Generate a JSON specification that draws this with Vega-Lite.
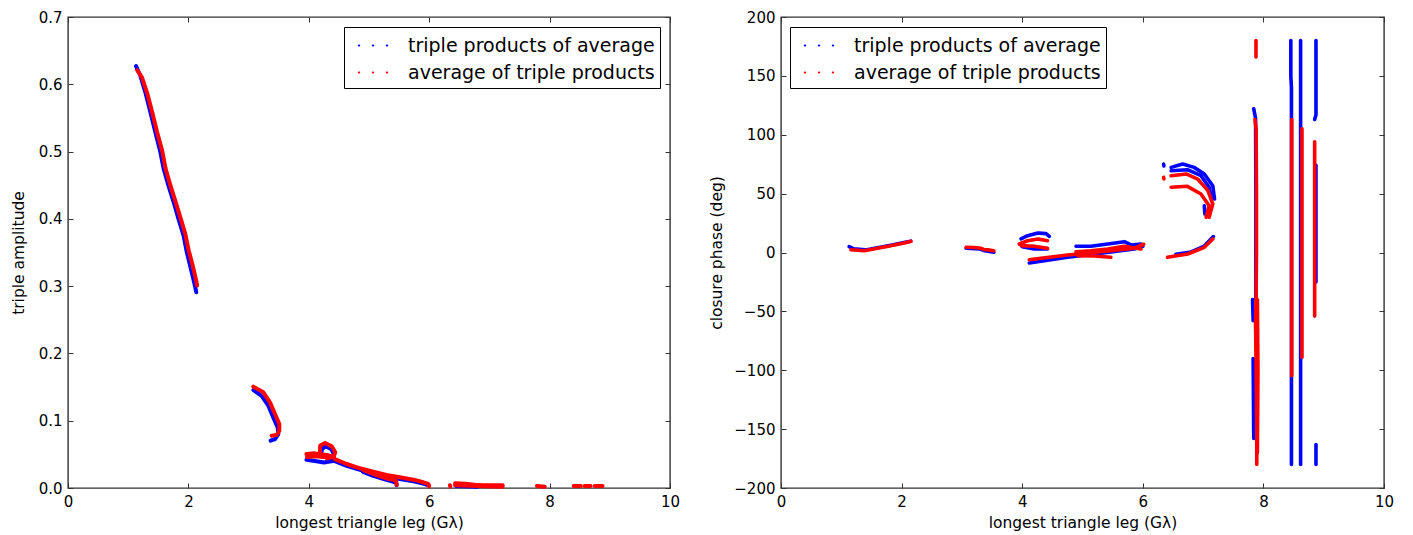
{
"$schema": "https://vega.github.io/schema/vega-lite/v6.json",
"padding": {"left": 10, "top": 9, "right": 5, "bottom": 5},
"spacing": 28,
"config": {
  "font": "DejaVu Sans",
  "view": {"stroke": "#333", "strokeWidth": 1.4},
  "axis": {"grid": false, "domain": false, "tickColor": "#333", "tickSize": -5, "tickWidth": 1, "labelPadding": 11,
    "labelFont": "DejaVu Sans", "labelFontSize": 15, "labelColor": "#000",
    "titleFont": "DejaVu Sans", "titleFontSize": 15.5, "titleFontWeight": "normal", "titleColor": "#000",
    "labelFlush": false, "labelOverlap": false},
  "axisX": {"titlePadding": 6},
  "axisY": {"titlePadding": 12}
},
"datasets": {
  "amp_b": [
    {"g":1,"x":1.13,"y":0.627},{"g":1,"x":1.20,"y":0.613},{"g":1,"x":1.285,"y":0.588},{"g":1,"x":1.37,"y":0.558},{"g":1,"x":1.45,"y":0.529},{"g":1,"x":1.53,"y":0.501},{"g":1,"x":1.59,"y":0.474},{"g":1,"x":1.67,"y":0.449},{"g":1,"x":1.755,"y":0.425},{"g":1,"x":1.835,"y":0.400},{"g":1,"x":1.92,"y":0.375},{"g":1,"x":1.975,"y":0.350},{"g":1,"x":2.035,"y":0.328},{"g":1,"x":2.11,"y":0.300},{"g":1,"x":2.13,"y":0.291},
    {"g":2,"x":3.08,"y":0.1456},{"g":2,"x":3.217,"y":0.137},{"g":2,"x":3.328,"y":0.1223},{"g":2,"x":3.41,"y":0.105},{"g":2,"x":3.483,"y":0.090},{"g":2,"x":3.494,"y":0.080},{"g":2,"x":3.439,"y":0.0728},{"g":2,"x":3.366,"y":0.0703},
    {"g":3,"x":3.96,"y":0.042},{"g":3,"x":4.10,"y":0.040},{"g":3,"x":4.25,"y":0.038},{"g":3,"x":4.40,"y":0.040},
    {"g":4,"x":4.20,"y":0.048},{"g":4,"x":4.22,"y":0.058},{"g":4,"x":4.28,"y":0.062},{"g":4,"x":4.37,"y":0.058},{"g":4,"x":4.42,"y":0.050},{"g":4,"x":4.38,"y":0.045},{"g":4,"x":4.25,"y":0.047},
    {"g":5,"x":4.40,"y":0.041},{"g":5,"x":4.63,"y":0.033},{"g":5,"x":4.85,"y":0.027},{"g":5,"x":5.07,"y":0.022},{"g":5,"x":5.29,"y":0.017},{"g":5,"x":5.51,"y":0.0135},{"g":5,"x":5.74,"y":0.010},{"g":5,"x":5.90,"y":0.0065},{"g":5,"x":5.99,"y":0.004},
    {"g":6,"x":4.90,"y":0.024},{"g":6,"x":5.07,"y":0.018},{"g":6,"x":5.29,"y":0.012},{"g":6,"x":5.45,"y":0.008},{"g":6,"x":5.46,"y":0.004},
    {"g":7,"x":6.45,"y":0.003},{"g":7,"x":6.80,"y":0.002}
  ],
  "amp_r": [
    {"g":1,"x":1.15,"y":0.621},{"g":1,"x":1.23,"y":0.610},{"g":1,"x":1.315,"y":0.587},{"g":1,"x":1.40,"y":0.558},{"g":1,"x":1.48,"y":0.529},{"g":1,"x":1.565,"y":0.501},{"g":1,"x":1.62,"y":0.475},{"g":1,"x":1.70,"y":0.450},{"g":1,"x":1.785,"y":0.426},{"g":1,"x":1.87,"y":0.401},{"g":1,"x":1.95,"y":0.377},{"g":1,"x":2.005,"y":0.353},{"g":1,"x":2.065,"y":0.333},{"g":1,"x":2.125,"y":0.310},{"g":1,"x":2.145,"y":0.301},
    {"g":2,"x":3.078,"y":0.1506},{"g":2,"x":3.244,"y":0.1422},{"g":2,"x":3.355,"y":0.1273},{"g":2,"x":3.439,"y":0.110},{"g":2,"x":3.51,"y":0.0951},{"g":2,"x":3.51,"y":0.0852},{"g":2,"x":3.466,"y":0.0788},{"g":2,"x":3.383,"y":0.0778},
    {"g":3,"x":3.96,"y":0.0505},{"g":3,"x":4.10,"y":0.0515},{"g":3,"x":4.20,"y":0.050},{"g":3,"x":4.30,"y":0.049},{"g":3,"x":4.42,"y":0.046},
    {"g":4,"x":3.97,"y":0.046},{"g":4,"x":4.10,"y":0.047},{"g":4,"x":4.25,"y":0.046},
    {"g":5,"x":4.18,"y":0.050},{"g":5,"x":4.19,"y":0.063},{"g":5,"x":4.27,"y":0.067},{"g":5,"x":4.38,"y":0.062},{"g":5,"x":4.44,"y":0.053},{"g":5,"x":4.41,"y":0.046},{"g":5,"x":4.30,"y":0.044},
    {"g":6,"x":4.43,"y":0.043},{"g":6,"x":4.63,"y":0.0357},{"g":6,"x":4.85,"y":0.0293},{"g":6,"x":5.07,"y":0.0243},{"g":6,"x":5.29,"y":0.0193},{"g":6,"x":5.51,"y":0.0159},{"g":6,"x":5.74,"y":0.0124},{"g":6,"x":5.90,"y":0.0085},{"g":6,"x":5.985,"y":0.006},{"g":6,"x":6.0,"y":0.0025},
    {"g":7,"x":4.90,"y":0.027},{"g":7,"x":5.07,"y":0.0208},{"g":7,"x":5.29,"y":0.0144},{"g":7,"x":5.45,"y":0.0109},{"g":7,"x":5.46,"y":0.0045},
    {"g":8,"x":6.43,"y":0.007},{"g":8,"x":6.6,"y":0.0065},{"g":8,"x":6.75,"y":0.005},{"g":8,"x":6.9,"y":0.004},{"g":8,"x":7.05,"y":0.004},{"g":8,"x":7.22,"y":0.004},
    {"g":9,"x":6.43,"y":0.004},{"g":9,"x":6.8,"y":0.003},{"g":9,"x":7.22,"y":0.002},
    {"g":10,"x":6.345,"y":0.004},{"g":10,"x":6.35,"y":0.002},
    {"g":11,"x":7.79,"y":0.003},{"g":11,"x":7.92,"y":0.002},
    {"g":12,"x":8.40,"y":0.003},{"g":12,"x":8.52,"y":0.003},
    {"g":13,"x":8.58,"y":0.003},{"g":13,"x":8.68,"y":0.003},
    {"g":14,"x":8.75,"y":0.003},{"g":14,"x":8.88,"y":0.003}
  ],
  "phase_b": [
    {"g":1,"x":1.13,"y":5.0},{"g":1,"x":1.20,"y":3.2},{"g":1,"x":1.40,"y":2.2},{"g":1,"x":1.60,"y":4.0},{"g":1,"x":1.82,"y":6.2},{"g":1,"x":2.04,"y":8.5},{"g":1,"x":2.15,"y":9.6},
    {"g":2,"x":3.07,"y":3.6},{"g":2,"x":3.30,"y":3.0},{"g":2,"x":3.38,"y":1.5},{"g":2,"x":3.53,"y":0.3},
    {"g":3,"x":3.98,"y":11.5},{"g":3,"x":4.09,"y":14.3},{"g":3,"x":4.26,"y":16.6},{"g":3,"x":4.395,"y":16.0},{"g":3,"x":4.45,"y":13.7},
    {"g":4,"x":4.0,"y":5.0},{"g":4,"x":4.2,"y":3.0},{"g":4,"x":4.42,"y":3.0},
    {"g":5,"x":4.118,"y":-8.9},{"g":5,"x":4.754,"y":-4.1},{"g":5,"x":5.307,"y":-0.7},{"g":5,"x":5.86,"y":3.0},{"g":5,"x":6.0,"y":5.3},
    {"g":6,"x":4.892,"y":5.3},{"g":6,"x":5.14,"y":5.3},{"g":6,"x":5.418,"y":7.2},{"g":6,"x":5.694,"y":9.2},{"g":6,"x":5.804,"y":6.4},{"g":6,"x":5.97,"y":7.2},
    {"g":7,"x":6.345,"y":75.2},{"g":7,"x":6.35,"y":73.5},
    {"g":8,"x":6.47,"y":72.3},{"g":8,"x":6.66,"y":75.2},{"g":8,"x":6.85,"y":72.3},{"g":8,"x":7.02,"y":66.7},{"g":8,"x":7.16,"y":56.7},{"g":8,"x":7.19,"y":45.4},
    {"g":9,"x":6.47,"y":69.4},{"g":9,"x":6.74,"y":70.3},{"g":9,"x":6.965,"y":65.2},{"g":9,"x":7.10,"y":55.4},{"g":9,"x":7.14,"y":46},
    {"g":10,"x":7.02,"y":39.7},{"g":10,"x":7.03,"y":32.7},
    {"g":11,"x":6.55,"y":-1.5},{"g":11,"x":6.80,"y":0.5},{"g":11,"x":7.02,"y":5.5},{"g":11,"x":7.17,"y":13.5},
    {"g":12,"x":7.84,"y":122},{"g":12,"x":7.87,"y":114},{"g":12,"x":7.875,"y":60},{"g":12,"x":7.875,"y":0},{"g":12,"x":7.875,"y":-40},
    {"g":13,"x":7.82,"y":-40},{"g":13,"x":7.83,"y":-58},
    {"g":14,"x":7.83,"y":-90},{"g":14,"x":7.84,"y":-158},
    {"g":15,"x":8.455,"y":180},{"g":15,"x":8.455,"y":150},{"g":15,"x":8.465,"y":140},{"g":15,"x":8.465,"y":-180},
    {"g":16,"x":8.617,"y":180},{"g":16,"x":8.617,"y":-180},
    {"g":17,"x":8.872,"y":180},{"g":17,"x":8.872,"y":117},{"g":17,"x":8.85,"y":113},
    {"g":18,"x":8.872,"y":74},{"g":18,"x":8.872,"y":-25},
    {"g":19,"x":8.872,"y":-163},{"g":19,"x":8.872,"y":-180}
  ],
  "phase_r": [
    {"g":1,"x":1.16,"y":2.4},{"g":1,"x":1.38,"y":1.5},{"g":1,"x":1.60,"y":3.6},{"g":1,"x":1.82,"y":5.8},{"g":1,"x":2.045,"y":8.1},{"g":1,"x":2.156,"y":9.5},
    {"g":2,"x":3.07,"y":4.4},{"g":2,"x":3.2,"y":4.2},{"g":2,"x":3.32,"y":3.6},{"g":2,"x":3.36,"y":2.6},{"g":2,"x":3.45,"y":2.2},{"g":2,"x":3.53,"y":1.5},
    {"g":3,"x":3.952,"y":7.2},{"g":3,"x":4.09,"y":10.0},{"g":3,"x":4.26,"y":11.5},{"g":3,"x":4.42,"y":10.0},
    {"g":4,"x":3.98,"y":5.8},{"g":4,"x":4.2,"y":5.3},{"g":4,"x":4.42,"y":3.6},
    {"g":5,"x":4.118,"y":-6.1},{"g":5,"x":4.754,"y":-2.1},{"g":5,"x":5.307,"y":0.7},{"g":5,"x":5.86,"y":3.6},{"g":5,"x":6.015,"y":7.0},
    {"g":6,"x":4.892,"y":0.7},{"g":6,"x":5.14,"y":1.5},{"g":6,"x":5.418,"y":3.0},{"g":6,"x":5.694,"y":5.3},{"g":6,"x":5.97,"y":3.0},
    {"g":7,"x":4.92,"y":-2.7},{"g":7,"x":5.2,"y":-3.0},{"g":7,"x":5.47,"y":-4.1},
    {"g":8,"x":6.345,"y":63.8},{"g":8,"x":6.35,"y":62.5},
    {"g":9,"x":6.47,"y":65.2},{"g":9,"x":6.72,"y":66.7},{"g":9,"x":6.91,"y":62.4},{"g":9,"x":7.08,"y":52.5},{"g":9,"x":7.16,"y":41.2},{"g":9,"x":7.10,"y":29.9},
    {"g":10,"x":6.47,"y":55.4},{"g":10,"x":6.74,"y":56.2},{"g":10,"x":6.965,"y":49.7},{"g":10,"x":7.10,"y":39.7},{"g":10,"x":7.05,"y":29.9},
    {"g":11,"x":6.41,"y":-4.1},{"g":11,"x":6.745,"y":-1.3},{"g":11,"x":7.02,"y":4.4},{"g":11,"x":7.16,"y":11.5},
    {"g":12,"x":7.877,"y":180},{"g":12,"x":7.877,"y":166},
    {"g":13,"x":7.86,"y":113},{"g":13,"x":7.88,"y":105},{"g":13,"x":7.885,"y":50},{"g":13,"x":7.885,"y":0},{"g":13,"x":7.88,"y":-35},{"g":13,"x":7.87,"y":-60},{"g":13,"x":7.88,"y":-100},{"g":13,"x":7.89,"y":-150},{"g":13,"x":7.89,"y":-180},
    {"g":14,"x":7.90,"y":-40},{"g":14,"x":7.91,"y":-100},{"g":14,"x":7.90,"y":-170},
    {"g":15,"x":8.47,"y":113},{"g":15,"x":8.47,"y":-104.6},
    {"g":16,"x":8.64,"y":105},{"g":16,"x":8.64,"y":-89},
    {"g":17,"x":8.85,"y":94},{"g":17,"x":8.85,"y":-54}
  ]
},
"hconcat": [
  {
    "width": 602, "height": 471,
    "layer": [
      {
        "data": {"name": "amp_b"},
        "mark": {"type": "line", "strokeWidth": 4, "strokeCap": "round", "strokeJoin": "round"},
        "encoding": {
          "x": {"field": "x", "type": "quantitative", "scale": {"domain": [0, 10], "nice": false, "zero": false},
                "axis": {"orient": "bottom", "values": [0, 2, 4, 6, 8, 10], "title": "longest triangle leg (Gλ)"}},
          "y": {"field": "y", "type": "quantitative", "scale": {"domain": [0, 0.7], "nice": false},
                "axis": {"orient": "left", "values": [0, 0.1, 0.2, 0.3, 0.4, 0.5, 0.6, 0.7], "format": ".1f", "title": "triple amplitude"}},
          "detail": {"field": "g", "type": "nominal"},
          "order": {"value": null},
          "color": {"datum": "triple products of average",
                    "scale": {"domain": ["triple products of average", "average of triple products"], "range": ["#0000ff", "#ff0000"]},
                    "legend": {"title": null, "orient": "none", "legendX": 276, "legendY": 10, "padding": 5,
                      "strokeColor": "#000", "fillColor": "#fff", "cornerRadius": 0,
                      "labelFont": "DejaVu Sans", "labelFontSize": 19, "labelColor": "#000", "labelLimit": 0,
                      "labelOffset": 32, "rowPadding": 3,
                      "symbolType": "M-0.3,0h0.02M0.87,0h0.02M2.03,0h0.02", "symbolSize": 576, "symbolStrokeWidth": 2.2,
                      "encode": {"symbols": {"update": {"strokeCap": {"value": "round"}}}}}}
        }
      },
      {
        "data": {"name": "amp_r"},
        "mark": {"type": "line", "strokeWidth": 4, "strokeCap": "round", "strokeJoin": "round"},
        "encoding": {
          "x": {"field": "x", "type": "quantitative", "axis": null},
          "y": {"field": "y", "type": "quantitative", "axis": null},
          "detail": {"field": "g", "type": "nominal"},
          "order": {"value": null},
          "color": {"datum": "average of triple products"}
        }
      },
      {
        "data": {"name": "amp_b"},
        "mark": {"type": "line", "opacity": 0},
        "encoding": {
          "x": {"field": "x", "type": "quantitative", "axis": {"orient": "top", "labels": false, "title": null, "values": [0, 2, 4, 6, 8, 10]}},
          "y": {"field": "y", "type": "quantitative", "axis": {"orient": "right", "labels": false, "title": null, "values": [0, 0.1, 0.2, 0.3, 0.4, 0.5, 0.6, 0.7]}},
          "detail": {"field": "g", "type": "nominal"}
        }
      }
    ],
    "resolve": {"axis": {"x": "independent", "y": "independent"}}
  },
  {
    "width": 603, "height": 471,
    "layer": [
      {
        "data": {"name": "phase_b"},
        "mark": {"type": "line", "strokeWidth": 3.6, "strokeCap": "round", "strokeJoin": "round"},
        "encoding": {
          "x": {"field": "x", "type": "quantitative", "scale": {"domain": [0, 10], "nice": false, "zero": false},
                "axis": {"orient": "bottom", "values": [0, 2, 4, 6, 8, 10], "title": "longest triangle leg (Gλ)"}},
          "y": {"field": "y", "type": "quantitative", "scale": {"domain": [-200, 200], "nice": false},
                "axis": {"orient": "left", "values": [-200, -150, -100, -50, 0, 50, 100, 150, 200], "title": "closure phase (deg)", "titlePadding": 9}},
          "detail": {"field": "g", "type": "nominal"},
          "order": {"value": null},
          "color": {"datum": "triple products of average",
                    "scale": {"domain": ["triple products of average", "average of triple products"], "range": ["#0000ff", "#ff0000"]},
                    "legend": {"title": null, "orient": "none", "legendX": 9, "legendY": 10, "padding": 5,
                      "strokeColor": "#000", "fillColor": "#fff", "cornerRadius": 0,
                      "labelFont": "DejaVu Sans", "labelFontSize": 19, "labelColor": "#000", "labelLimit": 0,
                      "labelOffset": 32, "rowPadding": 3,
                      "symbolType": "M-0.3,0h0.02M0.87,0h0.02M2.03,0h0.02", "symbolSize": 576, "symbolStrokeWidth": 2.2,
                      "encode": {"symbols": {"update": {"strokeCap": {"value": "round"}}}}}}
        }
      },
      {
        "data": {"name": "phase_r"},
        "mark": {"type": "line", "strokeWidth": 3.6, "strokeCap": "round", "strokeJoin": "round"},
        "encoding": {
          "x": {"field": "x", "type": "quantitative", "axis": null},
          "y": {"field": "y", "type": "quantitative", "axis": null},
          "detail": {"field": "g", "type": "nominal"},
          "order": {"value": null},
          "color": {"datum": "average of triple products"}
        }
      },
      {
        "data": {"name": "phase_b"},
        "mark": {"type": "line", "opacity": 0},
        "encoding": {
          "x": {"field": "x", "type": "quantitative", "axis": {"orient": "top", "labels": false, "title": null, "values": [0, 2, 4, 6, 8, 10]}},
          "y": {"field": "y", "type": "quantitative", "axis": {"orient": "right", "labels": false, "title": null, "values": [-200, -150, -100, -50, 0, 50, 100, 150, 200]}},
          "detail": {"field": "g", "type": "nominal"}
        }
      }
    ],
    "resolve": {"axis": {"x": "independent", "y": "independent"}}
  }
],
"resolve": {"legend": {"color": "independent"}, "scale": {"color": "independent"}}
}
